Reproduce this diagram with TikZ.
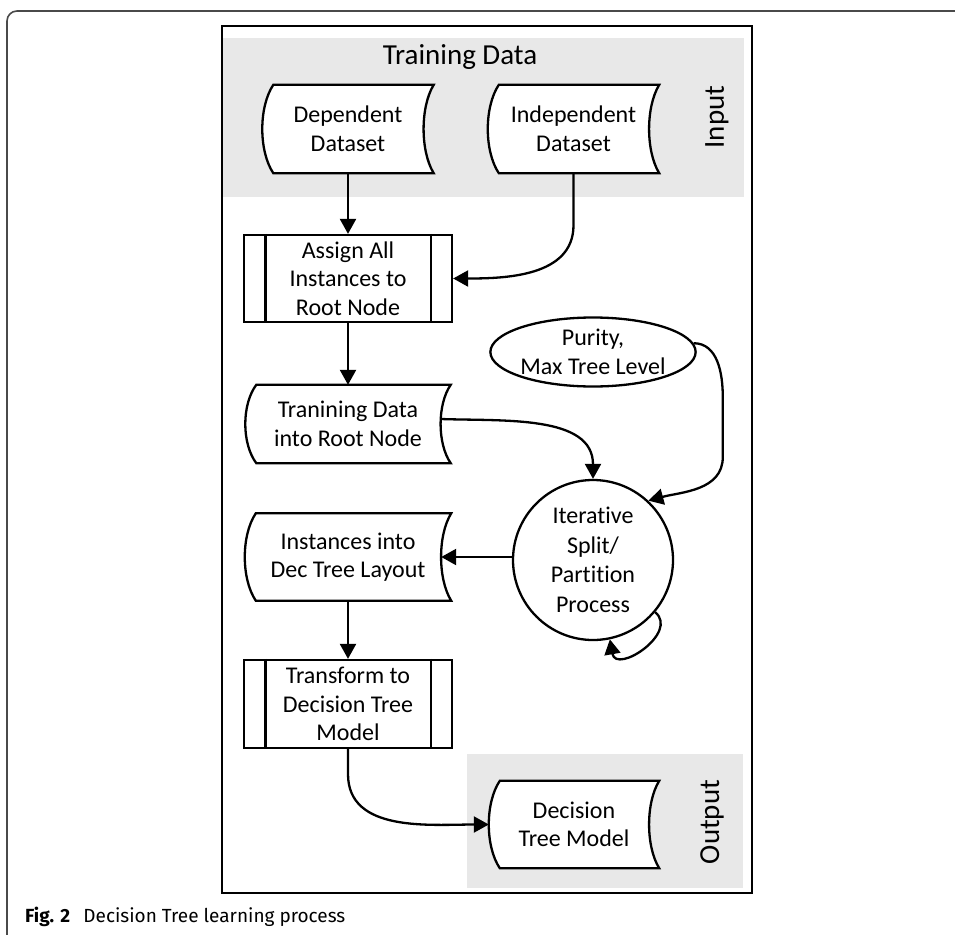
\documentclass[tikz,border=0pt]{standalone}
\usepackage{fontspec}
\setmainfont{Carlito}[Ligatures={NoCommon,NoRare,NoContextual}]
\newfontfamily\capfont{Fira Sans}
\usetikzlibrary{arrows.meta,shapes.geometric,calc}

\definecolor{bandgray}{HTML}{E8E8E8}
\definecolor{framegray}{HTML}{4A4A4A}

\pgfdeclarelayer{back}
\pgfdeclarelayer{mid}
\pgfsetlayers{back,mid,main}

\tikzset{
  shapeline/.style={line width=2.3pt, fill=white, line join=miter},
  txt/.style={font=\fontsize{24}{28.5}\selectfont, align=center, inner sep=0pt},
  storebox/.style={txt, minimum width=#1, minimum height=87},
  procbox/.style={txt, draw, line width=2.3pt, fill=white, minimum width=208, minimum height=87},
  flow/.style={line width=2.3pt, -{Triangle[length=15pt,width=16pt]}},
  band/.style={fill=bandgray, draw=none},
  sidelabel/.style={font=\fontsize{29}{32}\selectfont, inner sep=0pt},
}

% keeps "t" and "i" as separate glyphs
\newcommand\tI{t\kern0pt i}

% stored-data outline: bulging left side, hollow right side
\newcommand\storedbox[1]{%
  \begin{pgfonlayer}{mid}
    \draw[shapeline] ($(#1.north west)+(11,0)$) -- (#1.north east)
      .. controls ($(#1.north east)!0.25!(#1.south east)+(-13.5,0)$)
              and ($(#1.north east)!0.75!(#1.south east)+(-13.5,0)$) .. (#1.south east)
      -- ($(#1.south west)+(11,0)$)
      .. controls ($(#1.south west)!0.25!(#1.north west)+(-3.7,0)$)
              and ($(#1.south west)!0.75!(#1.north west)+(-3.7,0)$) .. ($(#1.north west)+(11,0)$)
      -- cycle;
  \end{pgfonlayer}}

% predefined-process side bars
\newcommand\subproc[1]{%
  \draw[line width=2.3pt] ($(#1.north west)+(22.5,0)$) -- ($(#1.south west)+(22.5,0)$)
                          ($(#1.north east)+(-22.5,0)$) -- ($(#1.south east)+(-22.5,0)$);}

\begin{document}
\begin{tikzpicture}[x=1pt,y=1pt]
  \useasboundingbox (0,0) rectangle (955,-934);

  % page frame
  \draw[framegray, line width=1.6pt, rounded corners=10pt] (7,-940) -- (7,-11) -- (960,-11);

  % figure frame and bands
  \draw[line width=1.3pt] (222,-26) rectangle (752,-893);
  \begin{pgfonlayer}{back}
    \fill[bandgray] (223,-38) rectangle (744,-197);
    \fill[bandgray] (467,-754) rectangle (743,-888);
  \end{pgfonlayer}

  \node[font=\fontsize{29}{32}\selectfont, inner sep=0pt] (title) at (460,-57) {Training Data};
  \node[sidelabel, rotate=90] (inlabel) at (717,-117) {Input};
  \node[sidelabel, rotate=90] (outlabel) at (712,-822) {Output};

  % nodes
  \node[storebox=171, minimum height=88] (dep) at (348,-129) {Dependent\\Dataset};
  \node[storebox=171, minimum height=88] (indep) at (573.5,-129) {Independent\\Dataset};
  \node[procbox] (assign) at (348,-278.5) {Assign All\\Instances to\\Root Node};
  \node[storebox=205, minimum height=78] (tran) at (348,-424) {Tranining Data\\into Root Node};
  \node[txt, draw, line width=2.3pt, ellipse, minimum width=192, minimum height=69, fill=white] (purity) at (593,-352) {Purity,\\Max Tree Level};
  \node[txt, draw, line width=2.3pt, circle, minimum size=160, fill=white, font=\fontsize{24}{29.5}\selectfont] (circ) at (593,-560) {Itera\tI ve\\Split/\\Par\tI\tI on\\Process};
  \node[storebox=206] (inst) at (348,-557) {Instances into\\Dec Tree Layout};
  \node[procbox, minimum height=88] (trans) at (348,-704) {Transform to\\Decision Tree\\Model};
  \node[storebox=170] (dtm) at (574,-824.5) {Decision\\Tree Model};

  \storedbox{dep}
  \storedbox{indep}
  \storedbox{tran}
  \storedbox{inst}
  \storedbox{dtm}
  \subproc{assign}
  \subproc{trans}

  % connectors
  \draw[flow] (dep.south) -- (assign.north);
  \draw[flow] (indep.south) -- ++(0,-52) to[out=-90,in=0] (assign.east);
  \draw[flow] (assign.south) -- (tran.north);
  \draw[flow] ($(tran.east)+(-10,5)$) to[out=-2,in=90] (circ.north);
  \draw[flow] (purity.5) to[out=0,in=90] ($(purity.east)+(26,-45)$) -- ++(0,-60) to[out=-90,in=15] (circ.47);
  \draw[flow] (circ.west |- inst.east) -- ($(inst.east)+(-10,0)$);
  \draw[flow] (inst.south) -- (trans.north);
  \draw[flow] (trans.south) -- ++(0,-25) to[out=-90,in=180] (dtm.west);
  \draw[flow] (circ.-40) .. controls +(-40:32) and +(-80:36) .. (circ.-78);

  % caption
  \node[anchor=base west, inner sep=0pt, font=\capfont\fontsize{19}{22}\selectfont] (cap) at (25,-922)
    {\textbf{Fig. 2}\hspace{0.7em}Decision Tree learning process};
\end{tikzpicture}
\end{document}
